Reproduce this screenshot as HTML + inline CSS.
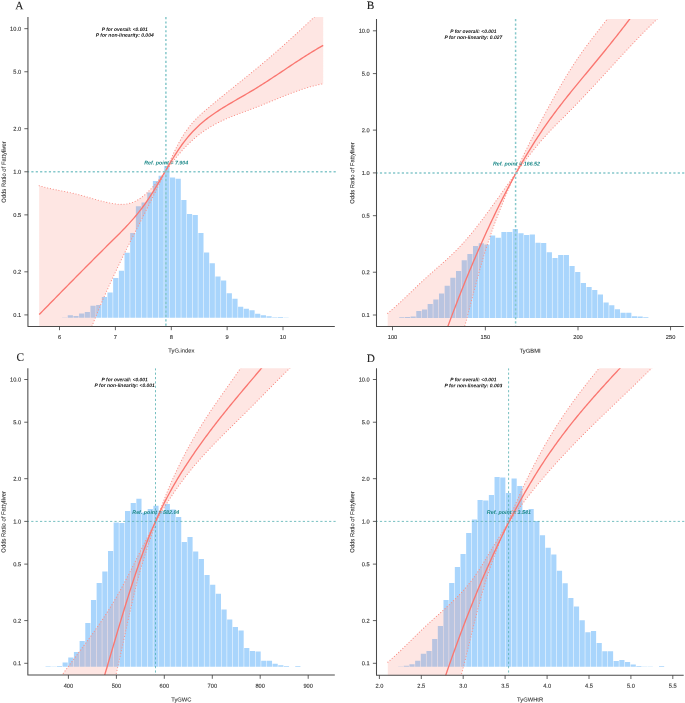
<!DOCTYPE html>
<html><head><meta charset="utf-8"><title>RCS plots</title>
<style>
html,body{margin:0;padding:0;background:#fff;}
svg{display:block;}
text{font-family:"Liberation Sans",sans-serif;text-rendering:geometricPrecision;}
.tk{font-size:5.7px;fill:#333;stroke:#333;stroke-width:0.12px;}
.ax{font-size:5.8px;fill:#333;stroke:#333;stroke-width:0.1px;}
.ay{font-size:5.9px;}
.pt{font-size:5.0px;font-weight:bold;font-style:italic;fill:#111;}
.rf{font-size:5.35px;font-weight:bold;font-style:italic;fill:#1f8a8a;}
.lt{font-family:"Liberation Serif",serif;font-size:11.3px;fill:#222;stroke:#222;stroke-width:0.12px;}
</style></head>
<body>
<svg width="685" height="703" viewBox="0 0 685 703">
<rect width="685" height="703" fill="#fff"/>
<g opacity="0.999">
<clipPath id="clip0"><rect x="27.95" y="17" width="308.85" height="309.4"/></clipPath>
<g clip-path="url(#clip0)">
<path d="M62.06 317.8H67.24V317.4H62.06ZM67.74 317.8H72.92V315.2H67.74ZM73.42 317.8H78.59V316.1H73.42ZM79.09 317.8H84.27V313.6H79.09ZM84.77 317.8H89.95V312H84.77ZM90.45 317.8H95.63V305.7H90.45ZM96.13 317.8H101.31V304.9H96.13ZM101.81 317.8H106.98V296.9H101.81ZM107.48 317.8H112.66V292.4H107.48ZM113.16 317.8H118.34V277.9H113.16ZM118.84 317.8H124.02V270.7H118.84ZM124.52 317.8H129.7V252.8H124.52ZM130.2 317.8H135.37V233H130.2ZM135.87 317.8H141.05V206.2H135.87ZM141.55 317.8H146.73V202.4H141.55ZM147.23 317.8H152.41V192.4H147.23ZM152.91 317.8H158.09V181H152.91ZM158.59 317.8H163.76V175.8H158.59ZM164.26 317.8H169.44V166.1H164.26ZM169.94 317.8H175.12V177.5H169.94ZM175.62 317.8H180.8V178.8H175.62ZM181.3 317.8H186.48V199.9H181.3ZM186.98 317.8H192.15V214.1H186.98ZM192.65 317.8H197.83V214.9H192.65ZM198.33 317.8H203.51V233.1H198.33ZM204.01 317.8H209.19V252.4H204.01ZM209.69 317.8H214.87V263.2H209.69ZM215.37 317.8H220.54V276.6H215.37ZM221.04 317.8H226.22V280.6H221.04ZM226.72 317.8H231.9V293.2H226.72ZM232.4 317.8H237.58V298.7H232.4ZM238.08 317.8H243.26V306.8H238.08ZM243.76 317.8H248.93V308.8H243.76ZM249.43 317.8H254.61V310.2H249.43ZM255.11 317.8H260.29V313.7H255.11ZM260.79 317.8H265.97V315.2H260.79ZM266.47 317.8H271.65V316.3H266.47ZM272.15 317.8H277.32V317.2H272.15ZM277.82 317.8H283V317H277.82ZM283.5 317.8H288.68V317.5H283.5Z" fill="#a9d5fc"/>
<path d="M39.2 458 L88 336.38 L89.48 332.51 L90.96 328.7 L92.44 324.93 L93.92 321.23 L95.4 317.56 L96.88 313.95 L98.35 310.39 L99.83 306.86 L101.31 303.39 L102.79 299.95 L104.27 296.55 L105.75 293.19 L107.23 289.87 L108.71 286.59 L110.19 283.33 L111.67 280.11 L113.15 276.92 L114.63 273.76 L116.11 270.63 L117.58 267.52 L119.06 264.43 L120.54 261.37 L122.02 258.33 L123.5 255.31 L124.98 252.31 L126.46 249.32 L127.94 246.35 L129.42 243.4 L130.9 240.45 L132.38 237.51 L133.86 234.59 L135.34 231.66 L136.82 228.75 L138.29 225.84 L139.77 222.93 L141.25 220.02 L142.73 217.11 L144.21 214.2 L145.69 211.28 L147.17 208.36 L148.65 205.43 L150.13 202.5 L151.61 199.55 L153.09 196.59 L154.57 193.61 L156.05 190.62 L157.52 187.6 L159 184.57 L160.48 181.5 L161.96 178.41 L163.44 175.29 L164.92 172.14 L166.4 168.95 L167.88 165.73 L169.36 162.5 L170.84 159.27 L172.32 156.06 L173.8 152.91 L175.28 149.84 L176.75 146.85 L178.23 143.99 L179.71 141.26 L181.19 138.67 L182.67 136.22 L184.15 133.9 L185.63 131.7 L187.11 129.61 L188.59 127.63 L190.07 125.75 L191.55 123.96 L193.03 122.26 L194.51 120.63 L195.98 119.07 L197.46 117.58 L198.94 116.14 L200.42 114.75 L201.9 113.41 L203.38 112.09 L204.86 110.81 L206.34 109.54 L207.82 108.29 L209.3 107.04 L210.78 105.8 L212.26 104.57 L213.74 103.34 L215.22 102.11 L216.69 100.89 L218.17 99.67 L219.65 98.46 L221.13 97.25 L222.61 96.05 L224.09 94.84 L225.57 93.64 L227.05 92.45 L228.53 91.25 L230.01 90.06 L231.49 88.86 L232.97 87.67 L234.45 86.48 L235.92 85.29 L237.4 84.1 L238.88 82.91 L240.36 81.72 L241.84 80.53 L243.32 79.33 L244.8 78.14 L246.28 76.94 L247.76 75.74 L249.24 74.54 L250.72 73.34 L252.2 72.13 L253.68 70.92 L255.15 69.71 L256.63 68.49 L258.11 67.27 L259.59 66.04 L261.07 64.81 L262.55 63.57 L264.03 62.33 L265.51 61.08 L266.99 59.83 L268.47 58.57 L269.95 57.3 L271.43 56.03 L272.91 54.75 L274.38 53.46 L275.86 52.17 L277.34 50.88 L278.82 49.58 L280.3 48.27 L281.78 46.96 L283.26 45.64 L284.74 44.32 L286.22 42.99 L287.7 41.66 L289.18 40.33 L290.66 38.99 L292.14 37.64 L293.62 36.29 L295.09 34.94 L296.57 33.58 L298.05 32.22 L299.53 30.85 L301.01 29.48 L302.49 28.11 L303.97 26.73 L305.45 25.35 L306.93 23.96 L308.41 22.58 L309.89 21.18 L311.37 19.79 L312.85 18.39 L314.32 16.99 L315.8 15.59 L317.28 14.18 L318.76 12.77 L320.24 11.36 L321.72 9.95 L323.2 8.53 L323.2 83.75 L321.41 84.09 L319.63 84.46 L317.84 84.85 L316.05 85.27 L314.27 85.71 L312.48 86.18 L310.69 86.67 L308.91 87.18 L307.12 87.72 L305.34 88.27 L303.55 88.84 L301.76 89.43 L299.98 90.04 L298.19 90.66 L296.4 91.3 L294.62 91.95 L292.83 92.61 L291.04 93.29 L289.26 93.97 L287.47 94.67 L285.68 95.37 L283.9 96.08 L282.11 96.8 L280.32 97.52 L278.54 98.25 L276.75 98.98 L274.97 99.72 L273.18 100.45 L271.39 101.19 L269.61 101.92 L267.82 102.66 L266.03 103.39 L264.25 104.11 L262.46 104.83 L260.67 105.55 L258.89 106.26 L257.1 106.96 L255.31 107.66 L253.53 108.34 L251.74 109.01 L249.95 109.68 L248.17 110.34 L246.38 111 L244.59 111.65 L242.81 112.31 L241.02 112.97 L239.24 113.64 L237.45 114.31 L235.66 114.99 L233.88 115.69 L232.09 116.39 L230.3 117.12 L228.52 117.86 L226.73 118.62 L224.94 119.41 L223.16 120.22 L221.37 121.05 L219.58 121.92 L217.8 122.82 L216.01 123.74 L214.22 124.71 L212.44 125.71 L210.65 126.75 L208.87 127.83 L207.08 128.96 L205.29 130.13 L203.51 131.35 L201.72 132.62 L199.93 133.95 L198.15 135.33 L196.36 136.76 L194.57 138.25 L192.79 139.81 L191 141.42 L189.21 143.1 L187.43 144.85 L185.64 146.67 L183.85 148.56 L182.07 150.52 L180.28 152.56 L178.5 154.67 L176.71 156.85 L174.92 159.07 L173.14 161.34 L171.35 163.63 L169.56 165.95 L167.78 168.28 L165.99 170.61 L164.2 172.94 L162.42 175.24 L160.63 177.52 L158.84 179.75 L157.06 181.94 L155.27 184.07 L153.48 186.12 L151.7 188.1 L149.91 189.99 L148.13 191.78 L146.34 193.47 L144.55 195.04 L142.77 196.5 L140.98 197.84 L139.19 199.06 L137.41 200.15 L135.62 201.12 L133.83 201.96 L132.05 202.66 L130.26 203.23 L128.47 203.67 L126.69 203.99 L124.9 204.21 L123.11 204.33 L121.33 204.36 L119.54 204.3 L117.76 204.18 L115.97 204 L114.18 203.76 L112.4 203.48 L110.61 203.16 L108.82 202.81 L107.04 202.43 L105.25 202.02 L103.46 201.6 L101.68 201.15 L99.89 200.68 L98.1 200.2 L96.32 199.7 L94.53 199.2 L92.74 198.69 L90.96 198.17 L89.17 197.65 L87.38 197.13 L85.6 196.62 L83.81 196.11 L82.03 195.61 L80.24 195.12 L78.45 194.64 L76.67 194.19 L74.88 193.75 L73.09 193.33 L71.31 192.93 L69.52 192.54 L67.73 192.17 L65.95 191.8 L64.16 191.45 L62.37 191.09 L60.59 190.74 L58.8 190.39 L57.01 190.03 L55.23 189.67 L53.44 189.3 L51.66 188.91 L49.87 188.52 L48.08 188.1 L46.3 187.67 L44.51 187.22 L42.72 186.74 L40.94 186.23 L39.15 185.7 Z" fill="#fa8072" fill-opacity="0.2" fill-rule="evenodd"/>
<path d="M39.2 458 L88 336.38 L89.48 332.51 L90.96 328.7 L92.44 324.93 L93.92 321.23 L95.4 317.56 L96.88 313.95 L98.35 310.39 L99.83 306.86 L101.31 303.39 L102.79 299.95 L104.27 296.55 L105.75 293.19 L107.23 289.87 L108.71 286.59 L110.19 283.33 L111.67 280.11 L113.15 276.92 L114.63 273.76 L116.11 270.63 L117.58 267.52 L119.06 264.43 L120.54 261.37 L122.02 258.33 L123.5 255.31 L124.98 252.31 L126.46 249.32 L127.94 246.35 L129.42 243.4 L130.9 240.45 L132.38 237.51 L133.86 234.59 L135.34 231.66 L136.82 228.75 L138.29 225.84 L139.77 222.93 L141.25 220.02 L142.73 217.11 L144.21 214.2 L145.69 211.28 L147.17 208.36 L148.65 205.43 L150.13 202.5 L151.61 199.55 L153.09 196.59 L154.57 193.61 L156.05 190.62 L157.52 187.6 L159 184.57 L160.48 181.5 L161.96 178.41 L163.44 175.29 L164.92 172.14 L166.4 168.95 L167.88 165.73 L169.36 162.5 L170.84 159.27 L172.32 156.06 L173.8 152.91 L175.28 149.84 L176.75 146.85 L178.23 143.99 L179.71 141.26 L181.19 138.67 L182.67 136.22 L184.15 133.9 L185.63 131.7 L187.11 129.61 L188.59 127.63 L190.07 125.75 L191.55 123.96 L193.03 122.26 L194.51 120.63 L195.98 119.07 L197.46 117.58 L198.94 116.14 L200.42 114.75 L201.9 113.41 L203.38 112.09 L204.86 110.81 L206.34 109.54 L207.82 108.29 L209.3 107.04 L210.78 105.8 L212.26 104.57 L213.74 103.34 L215.22 102.11 L216.69 100.89 L218.17 99.67 L219.65 98.46 L221.13 97.25 L222.61 96.05 L224.09 94.84 L225.57 93.64 L227.05 92.45 L228.53 91.25 L230.01 90.06 L231.49 88.86 L232.97 87.67 L234.45 86.48 L235.92 85.29 L237.4 84.1 L238.88 82.91 L240.36 81.72 L241.84 80.53 L243.32 79.33 L244.8 78.14 L246.28 76.94 L247.76 75.74 L249.24 74.54 L250.72 73.34 L252.2 72.13 L253.68 70.92 L255.15 69.71 L256.63 68.49 L258.11 67.27 L259.59 66.04 L261.07 64.81 L262.55 63.57 L264.03 62.33 L265.51 61.08 L266.99 59.83 L268.47 58.57 L269.95 57.3 L271.43 56.03 L272.91 54.75 L274.38 53.46 L275.86 52.17 L277.34 50.88 L278.82 49.58 L280.3 48.27 L281.78 46.96 L283.26 45.64 L284.74 44.32 L286.22 42.99 L287.7 41.66 L289.18 40.33 L290.66 38.99 L292.14 37.64 L293.62 36.29 L295.09 34.94 L296.57 33.58 L298.05 32.22 L299.53 30.85 L301.01 29.48 L302.49 28.11 L303.97 26.73 L305.45 25.35 L306.93 23.96 L308.41 22.58 L309.89 21.18 L311.37 19.79 L312.85 18.39 L314.32 16.99 L315.8 15.59 L317.28 14.18 L318.76 12.77 L320.24 11.36 L321.72 9.95 L323.2 8.53" fill="none" stroke="#f9928a" stroke-width="1.1" stroke-linecap="round" stroke-dasharray="0.15 2.75"/>
<path d="M39.15 185.7 L40.94 186.23 L42.72 186.74 L44.51 187.22 L46.3 187.67 L48.08 188.1 L49.87 188.52 L51.66 188.91 L53.44 189.3 L55.23 189.67 L57.01 190.03 L58.8 190.39 L60.59 190.74 L62.37 191.09 L64.16 191.45 L65.95 191.8 L67.73 192.17 L69.52 192.54 L71.31 192.93 L73.09 193.33 L74.88 193.75 L76.67 194.19 L78.45 194.64 L80.24 195.12 L82.03 195.61 L83.81 196.11 L85.6 196.62 L87.38 197.13 L89.17 197.65 L90.96 198.17 L92.74 198.69 L94.53 199.2 L96.32 199.7 L98.1 200.2 L99.89 200.68 L101.68 201.15 L103.46 201.6 L105.25 202.02 L107.04 202.43 L108.82 202.81 L110.61 203.16 L112.4 203.48 L114.18 203.76 L115.97 204 L117.76 204.18 L119.54 204.3 L121.33 204.36 L123.11 204.33 L124.9 204.21 L126.69 203.99 L128.47 203.67 L130.26 203.23 L132.05 202.66 L133.83 201.96 L135.62 201.12 L137.41 200.15 L139.19 199.06 L140.98 197.84 L142.77 196.5 L144.55 195.04 L146.34 193.47 L148.13 191.78 L149.91 189.99 L151.7 188.1 L153.48 186.12 L155.27 184.07 L157.06 181.94 L158.84 179.75 L160.63 177.52 L162.42 175.24 L164.2 172.94 L165.99 170.61 L167.78 168.28 L169.56 165.95 L171.35 163.63 L173.14 161.34 L174.92 159.07 L176.71 156.85 L178.5 154.67 L180.28 152.56 L182.07 150.52 L183.85 148.56 L185.64 146.67 L187.43 144.85 L189.21 143.1 L191 141.42 L192.79 139.81 L194.57 138.25 L196.36 136.76 L198.15 135.33 L199.93 133.95 L201.72 132.62 L203.51 131.35 L205.29 130.13 L207.08 128.96 L208.87 127.83 L210.65 126.75 L212.44 125.71 L214.22 124.71 L216.01 123.74 L217.8 122.82 L219.58 121.92 L221.37 121.05 L223.16 120.22 L224.94 119.41 L226.73 118.62 L228.52 117.86 L230.3 117.12 L232.09 116.39 L233.88 115.69 L235.66 114.99 L237.45 114.31 L239.24 113.64 L241.02 112.97 L242.81 112.31 L244.59 111.65 L246.38 111 L248.17 110.34 L249.95 109.68 L251.74 109.01 L253.53 108.34 L255.31 107.66 L257.1 106.96 L258.89 106.26 L260.67 105.55 L262.46 104.83 L264.25 104.11 L266.03 103.39 L267.82 102.66 L269.61 101.92 L271.39 101.19 L273.18 100.45 L274.97 99.72 L276.75 98.98 L278.54 98.25 L280.32 97.52 L282.11 96.8 L283.9 96.08 L285.68 95.37 L287.47 94.67 L289.26 93.97 L291.04 93.29 L292.83 92.61 L294.62 91.95 L296.4 91.3 L298.19 90.66 L299.98 90.04 L301.76 89.43 L303.55 88.84 L305.34 88.27 L307.12 87.72 L308.91 87.18 L310.69 86.67 L312.48 86.18 L314.27 85.71 L316.05 85.27 L317.84 84.85 L319.63 84.46 L321.41 84.09 L323.2 83.75" fill="none" stroke="#f9928a" stroke-width="1.1" stroke-linecap="round" stroke-dasharray="0.15 2.75"/>
<path d="M39.2 314.55 L40.99 312.72 L42.77 310.89 L44.56 309.07 L46.34 307.24 L48.13 305.41 L49.92 303.59 L51.7 301.76 L53.49 299.94 L55.28 298.12 L57.06 296.29 L58.85 294.47 L60.63 292.65 L62.42 290.83 L64.21 289.02 L65.99 287.2 L67.78 285.38 L69.56 283.57 L71.35 281.75 L73.14 279.94 L74.92 278.13 L76.71 276.32 L78.5 274.51 L80.28 272.71 L82.07 270.9 L83.85 269.1 L85.64 267.3 L87.43 265.5 L89.21 263.7 L91 261.91 L92.78 260.11 L94.57 258.32 L96.36 256.53 L98.14 254.74 L99.93 252.96 L101.72 251.17 L103.5 249.39 L105.29 247.61 L107.07 245.84 L108.86 244.06 L110.65 242.29 L112.43 240.52 L114.22 238.75 L116.01 236.98 L117.79 235.2 L119.58 233.41 L121.36 231.61 L123.15 229.78 L124.94 227.93 L126.72 226.05 L128.51 224.13 L130.29 222.17 L132.08 220.17 L133.87 218.12 L135.65 216.01 L137.44 213.85 L139.23 211.63 L141.01 209.34 L142.8 206.97 L144.58 204.53 L146.37 202.01 L148.16 199.4 L149.94 196.71 L151.73 193.93 L153.51 191.07 L155.3 188.16 L157.09 185.19 L158.87 182.18 L160.66 179.15 L162.45 176.09 L164.23 173.03 L166.02 169.97 L167.8 166.93 L169.59 163.92 L171.38 160.94 L173.16 158.02 L174.95 155.15 L176.73 152.36 L178.52 149.64 L180.31 147.02 L182.09 144.51 L183.88 142.1 L185.67 139.79 L187.45 137.59 L189.24 135.48 L191.02 133.46 L192.81 131.52 L194.6 129.67 L196.38 127.9 L198.17 126.19 L199.95 124.56 L201.74 123 L203.53 121.49 L205.31 120.04 L207.1 118.64 L208.89 117.29 L210.67 115.98 L212.46 114.71 L214.24 113.47 L216.03 112.27 L217.82 111.09 L219.6 109.93 L221.39 108.8 L223.17 107.68 L224.96 106.58 L226.75 105.49 L228.53 104.42 L230.32 103.35 L232.11 102.3 L233.89 101.26 L235.68 100.22 L237.46 99.18 L239.25 98.15 L241.04 97.12 L242.82 96.09 L244.61 95.06 L246.39 94.02 L248.18 92.98 L249.97 91.93 L251.75 90.87 L253.54 89.8 L255.33 88.72 L257.11 87.62 L258.9 86.51 L260.68 85.39 L262.47 84.26 L264.26 83.12 L266.04 81.98 L267.83 80.82 L269.62 79.66 L271.4 78.49 L273.19 77.31 L274.97 76.13 L276.76 74.95 L278.55 73.76 L280.33 72.57 L282.12 71.38 L283.9 70.19 L285.69 69 L287.48 67.81 L289.26 66.62 L291.05 65.43 L292.84 64.24 L294.62 63.06 L296.41 61.89 L298.19 60.72 L299.98 59.56 L301.77 58.4 L303.55 57.25 L305.34 56.11 L307.12 54.98 L308.91 53.86 L310.7 52.75 L312.48 51.66 L314.27 50.57 L316.06 49.5 L317.84 48.45 L319.63 47.41 L321.41 46.38 L323.2 45.38" fill="none" stroke="#fa7771" stroke-width="1.35" stroke-linejoin="round"/>
<path d="M165.9 17V326.4 M26.95 171.78H336.8" fill="none" stroke="#86c8cb" stroke-width="1.5" stroke-dasharray="2.2 2.18"/>
</g>
<path d="M27.95 17V326.4H334.8" fill="none" stroke="#4a4a4a" stroke-width="1.05" stroke-linejoin="round"/>
<text transform="translate(21.2 30.72) rotate(0.03)" text-anchor="end" class="tk">10.0</text>
<text transform="translate(21.2 73.8) rotate(0.03)" text-anchor="end" class="tk">5.0</text>
<text transform="translate(21.2 130.75) rotate(0.03)" text-anchor="end" class="tk">2.0</text>
<text transform="translate(21.2 173.83) rotate(0.03)" text-anchor="end" class="tk">1.0</text>
<text transform="translate(21.2 216.92) rotate(0.03)" text-anchor="end" class="tk">0.5</text>
<text transform="translate(21.2 273.87) rotate(0.03)" text-anchor="end" class="tk">0.2</text>
<text transform="translate(21.2 316.95) rotate(0.03)" text-anchor="end" class="tk">0.1</text>
<text transform="translate(59.5 338.95) rotate(0.03)" text-anchor="middle" class="tk">6</text>
<text transform="translate(115.4 338.95) rotate(0.03)" text-anchor="middle" class="tk">7</text>
<text transform="translate(171.3 338.95) rotate(0.03)" text-anchor="middle" class="tk">8</text>
<text transform="translate(227.15 338.95) rotate(0.03)" text-anchor="middle" class="tk">9</text>
<text transform="translate(283 338.95) rotate(0.03)" text-anchor="middle" class="tk">10</text>
<path d="M24.35 28.67H27.95M24.35 71.75H27.95M24.35 128.7H27.95M24.35 171.78H27.95M24.35 214.87H27.95M24.35 271.82H27.95M24.35 314.9H27.95M59.5 326.4V330.2M115.4 326.4V330.2M171.3 326.4V330.2M227.15 326.4V330.2M283 326.4V330.2" fill="none" stroke="#3c3c3c" stroke-width="0.8"/>
<text transform="translate(181.38 352.6) rotate(0.03)" text-anchor="middle" class="ax">TyG.index</text>
<text transform="translate(5.65 172) rotate(-90.03)" text-anchor="middle" class="ax ay">Odds Ratio of Fattyliver</text>
<text transform="translate(124.75 30.92) rotate(0.03)" text-anchor="middle" textLength="46.1" lengthAdjust="spacingAndGlyphs" class="pt">P for overall: &lt;0.001</text>
<text transform="translate(124.75 36.82) rotate(0.03)" text-anchor="middle" textLength="57.85" lengthAdjust="spacingAndGlyphs" class="pt">P for non-linearity: 0.004</text>
<text transform="translate(166.2 164.48) rotate(0.03)" text-anchor="middle" class="rf">Ref. point = 7.904</text>
<text transform="translate(15.2 9.2) rotate(0.03)" class="lt">A</text>
<clipPath id="clip1"><rect x="376.5" y="19.1" width="309.2" height="307.4"/></clipPath>
<g clip-path="url(#clip1)">
<path d="M399.25 317.9H404.42V317.2H399.25ZM404.92 317.9H410.1V317H404.92ZM410.6 317.9H415.77V316.5H410.6ZM416.27 317.9H421.45V311H416.27ZM421.95 317.9H427.12V309.5H421.95ZM427.62 317.9H432.79V304H427.62ZM433.29 317.9H438.47V299.5H433.29ZM438.97 317.9H444.14V293.4H438.97ZM444.64 317.9H449.82V285.7H444.64ZM450.32 317.9H455.49V277.7H450.32ZM455.99 317.9H461.16V271.1H455.99ZM461.66 317.9H466.84V260.3H461.66ZM467.34 317.9H472.51V254.1H467.34ZM473.01 317.9H478.19V246H473.01ZM478.69 317.9H483.86V243.3H478.69ZM484.36 317.9H489.53V244.6H484.36ZM490.03 317.9H495.21V235.6H490.03ZM495.71 317.9H500.88V237.8H495.71ZM501.38 317.9H506.56V232H501.38ZM507.06 317.9H512.23V232H507.06ZM512.73 317.9H517.9V229.1H512.73ZM518.4 317.9H523.58V233.3H518.4ZM524.08 317.9H529.25V235H524.08ZM529.75 317.9H534.93V234.6H529.75ZM535.43 317.9H540.6V242.8H535.43ZM541.1 317.9H546.27V243.1H541.1ZM546.77 317.9H551.95V252.3H546.77ZM552.45 317.9H557.62V257.9H552.45ZM558.12 317.9H563.3V254.9H558.12ZM563.8 317.9H568.97V254.9H563.8ZM569.47 317.9H574.64V266.1H569.47ZM575.14 317.9H580.32V272.1H575.14ZM580.82 317.9H585.99V282.9H580.82ZM586.49 317.9H591.67V287.1H586.49ZM592.17 317.9H597.34V289.9H592.17ZM597.84 317.9H603.01V294.5H597.84ZM603.51 317.9H608.69V302.4H603.51ZM609.19 317.9H614.36V305.2H609.19ZM614.86 317.9H620.04V309.3H614.86ZM620.54 317.9H625.71V312.7H620.54ZM626.21 317.9H631.38V312.7H626.21ZM631.88 317.9H637.06V316.2H631.88ZM637.56 317.9H642.73V316.6H637.56ZM643.23 317.9H648.41V317.3H643.23Z" fill="#a9d5fc"/>
<path d="M387.65 566 L462 336 L462.97 332.59 L463.95 329.12 L464.92 325.59 L465.9 322.01 L466.87 318.38 L467.85 314.72 L468.82 311.02 L469.8 307.31 L470.77 303.58 L471.75 299.84 L472.72 296.11 L473.7 292.39 L474.67 288.68 L475.65 285 L476.62 281.34 L477.6 277.73 L478.57 274.15 L479.55 270.62 L480.52 267.14 L481.5 263.72 L482.47 260.36 L483.45 257.07 L484.42 253.85 L485.4 250.7 L486.37 247.61 L487.35 244.58 L488.32 241.61 L489.3 238.7 L490.27 235.84 L491.25 233.03 L492.22 230.28 L493.19 227.56 L494.17 224.89 L495.14 222.26 L496.12 219.67 L497.09 217.11 L498.07 214.59 L499.04 212.09 L500.02 209.62 L500.99 207.18 L501.97 204.76 L502.94 202.36 L503.92 199.97 L504.89 197.6 L505.87 195.24 L506.84 192.9 L507.82 190.57 L508.79 188.26 L509.77 185.96 L510.74 183.68 L511.72 181.42 L512.69 179.17 L513.67 176.93 L514.64 174.72 L515.62 172.52 L516.59 170.33 L517.57 168.17 L518.54 166.02 L519.52 163.89 L520.49 161.77 L521.47 159.68 L522.44 157.6 L523.42 155.54 L524.39 153.51 L525.36 151.49 L526.34 149.49 L527.31 147.5 L528.29 145.54 L529.26 143.59 L530.24 141.65 L531.21 139.73 L532.19 137.83 L533.16 135.93 L534.14 134.05 L535.11 132.18 L536.09 130.32 L537.06 128.47 L538.04 126.63 L539.01 124.8 L539.99 122.97 L540.96 121.15 L541.94 119.33 L542.91 117.52 L543.89 115.72 L544.86 113.91 L545.84 112.12 L546.81 110.33 L547.79 108.55 L548.76 106.77 L549.74 105 L550.71 103.24 L551.69 101.48 L552.66 99.73 L553.64 97.99 L554.61 96.26 L555.58 94.54 L556.56 92.83 L557.53 91.12 L558.51 89.43 L559.48 87.74 L560.46 86.06 L561.43 84.4 L562.41 82.75 L563.38 81.1 L564.36 79.47 L565.33 77.85 L566.31 76.24 L567.28 74.64 L568.26 73.06 L569.23 71.49 L570.21 69.93 L571.18 68.38 L572.16 66.85 L573.13 65.33 L574.11 63.83 L575.08 62.34 L576.06 60.87 L577.03 59.41 L578.01 57.96 L578.98 56.54 L579.96 55.13 L580.93 53.73 L581.91 52.35 L582.88 50.98 L583.86 49.63 L584.83 48.28 L585.81 46.95 L586.78 45.63 L587.75 44.33 L588.73 43.03 L589.7 41.73 L590.68 40.45 L591.65 39.18 L592.63 37.91 L593.6 36.64 L594.58 35.38 L595.55 34.13 L596.53 32.87 L597.5 31.62 L598.48 30.38 L599.45 29.13 L600.43 27.88 L601.4 26.63 L602.38 25.38 L603.35 24.13 L604.33 22.88 L605.3 21.62 L606.28 20.35 L607.25 19.08 L608.23 17.81 L609.2 16.53 L610.18 15.24 L611.15 13.94 L612.13 12.63 L613.1 11.32 L614.08 9.99 L615.05 8.65 L616.03 7.3 L617 5.93 L672 5.64 L670.21 7.17 L668.42 8.73 L666.63 10.31 L664.85 11.92 L663.06 13.54 L661.27 15.19 L659.48 16.86 L657.69 18.54 L655.9 20.25 L654.12 21.97 L652.33 23.71 L650.54 25.47 L648.75 27.24 L646.96 29.03 L645.17 30.83 L643.39 32.65 L641.6 34.48 L639.81 36.32 L638.02 38.18 L636.23 40.04 L634.44 41.92 L632.66 43.8 L630.87 45.7 L629.08 47.6 L627.29 49.51 L625.5 51.43 L623.71 53.36 L621.93 55.29 L620.14 57.22 L618.35 59.16 L616.56 61.1 L614.77 63.05 L612.98 64.99 L611.2 66.94 L609.41 68.89 L607.62 70.84 L605.83 72.79 L604.04 74.74 L602.25 76.68 L600.47 78.63 L598.68 80.57 L596.89 82.5 L595.1 84.44 L593.31 86.36 L591.52 88.29 L589.74 90.2 L587.95 92.11 L586.16 94.02 L584.37 95.91 L582.58 97.8 L580.79 99.69 L579.01 101.56 L577.22 103.42 L575.43 105.28 L573.64 107.12 L571.85 108.95 L570.06 110.77 L568.27 112.58 L566.49 114.38 L564.7 116.17 L562.91 117.95 L561.12 119.72 L559.33 121.5 L557.54 123.29 L555.76 125.09 L553.97 126.91 L552.18 128.75 L550.39 130.63 L548.6 132.53 L546.81 134.48 L545.03 136.45 L543.24 138.46 L541.45 140.51 L539.66 142.59 L537.87 144.7 L536.08 146.84 L534.3 149.02 L532.51 151.23 L530.72 153.47 L528.93 155.75 L527.14 158.05 L525.35 160.39 L523.57 162.75 L521.78 165.13 L519.99 167.53 L518.2 169.96 L516.41 172.4 L514.62 174.86 L512.84 177.34 L511.05 179.82 L509.26 182.31 L507.47 184.82 L505.68 187.32 L503.89 189.83 L502.11 192.34 L500.32 194.85 L498.53 197.36 L496.74 199.86 L494.95 202.35 L493.16 204.83 L491.38 207.3 L489.59 209.76 L487.8 212.2 L486.01 214.62 L484.22 217.03 L482.43 219.41 L480.64 221.76 L478.86 224.09 L477.07 226.39 L475.28 228.66 L473.49 230.9 L471.7 233.1 L469.91 235.26 L468.13 237.39 L466.34 239.47 L464.55 241.51 L462.76 243.51 L460.97 245.45 L459.18 247.35 L457.4 249.2 L455.61 251.01 L453.82 252.78 L452.03 254.51 L450.24 256.21 L448.45 257.88 L446.67 259.52 L444.88 261.14 L443.09 262.75 L441.3 264.33 L439.51 265.91 L437.72 267.48 L435.94 269.05 L434.15 270.62 L432.36 272.19 L430.57 273.76 L428.78 275.35 L426.99 276.95 L425.21 278.57 L423.42 280.21 L421.63 281.88 L419.84 283.56 L418.05 285.25 L416.26 286.96 L414.48 288.68 L412.69 290.4 L410.9 292.13 L409.11 293.85 L407.32 295.57 L405.53 297.29 L403.75 298.99 L401.96 300.68 L400.17 302.36 L398.38 304.01 L396.59 305.64 L394.8 307.25 L393.02 308.82 L391.23 310.36 L389.44 311.87 L387.65 313.34 Z" fill="#fa8072" fill-opacity="0.2" fill-rule="evenodd"/>
<path d="M387.65 566 L462 336 L462.97 332.59 L463.95 329.12 L464.92 325.59 L465.9 322.01 L466.87 318.38 L467.85 314.72 L468.82 311.02 L469.8 307.31 L470.77 303.58 L471.75 299.84 L472.72 296.11 L473.7 292.39 L474.67 288.68 L475.65 285 L476.62 281.34 L477.6 277.73 L478.57 274.15 L479.55 270.62 L480.52 267.14 L481.5 263.72 L482.47 260.36 L483.45 257.07 L484.42 253.85 L485.4 250.7 L486.37 247.61 L487.35 244.58 L488.32 241.61 L489.3 238.7 L490.27 235.84 L491.25 233.03 L492.22 230.28 L493.19 227.56 L494.17 224.89 L495.14 222.26 L496.12 219.67 L497.09 217.11 L498.07 214.59 L499.04 212.09 L500.02 209.62 L500.99 207.18 L501.97 204.76 L502.94 202.36 L503.92 199.97 L504.89 197.6 L505.87 195.24 L506.84 192.9 L507.82 190.57 L508.79 188.26 L509.77 185.96 L510.74 183.68 L511.72 181.42 L512.69 179.17 L513.67 176.93 L514.64 174.72 L515.62 172.52 L516.59 170.33 L517.57 168.17 L518.54 166.02 L519.52 163.89 L520.49 161.77 L521.47 159.68 L522.44 157.6 L523.42 155.54 L524.39 153.51 L525.36 151.49 L526.34 149.49 L527.31 147.5 L528.29 145.54 L529.26 143.59 L530.24 141.65 L531.21 139.73 L532.19 137.83 L533.16 135.93 L534.14 134.05 L535.11 132.18 L536.09 130.32 L537.06 128.47 L538.04 126.63 L539.01 124.8 L539.99 122.97 L540.96 121.15 L541.94 119.33 L542.91 117.52 L543.89 115.72 L544.86 113.91 L545.84 112.12 L546.81 110.33 L547.79 108.55 L548.76 106.77 L549.74 105 L550.71 103.24 L551.69 101.48 L552.66 99.73 L553.64 97.99 L554.61 96.26 L555.58 94.54 L556.56 92.83 L557.53 91.12 L558.51 89.43 L559.48 87.74 L560.46 86.06 L561.43 84.4 L562.41 82.75 L563.38 81.1 L564.36 79.47 L565.33 77.85 L566.31 76.24 L567.28 74.64 L568.26 73.06 L569.23 71.49 L570.21 69.93 L571.18 68.38 L572.16 66.85 L573.13 65.33 L574.11 63.83 L575.08 62.34 L576.06 60.87 L577.03 59.41 L578.01 57.96 L578.98 56.54 L579.96 55.13 L580.93 53.73 L581.91 52.35 L582.88 50.98 L583.86 49.63 L584.83 48.28 L585.81 46.95 L586.78 45.63 L587.75 44.33 L588.73 43.03 L589.7 41.73 L590.68 40.45 L591.65 39.18 L592.63 37.91 L593.6 36.64 L594.58 35.38 L595.55 34.13 L596.53 32.87 L597.5 31.62 L598.48 30.38 L599.45 29.13 L600.43 27.88 L601.4 26.63 L602.38 25.38 L603.35 24.13 L604.33 22.88 L605.3 21.62 L606.28 20.35 L607.25 19.08 L608.23 17.81 L609.2 16.53 L610.18 15.24 L611.15 13.94 L612.13 12.63 L613.1 11.32 L614.08 9.99 L615.05 8.65 L616.03 7.3 L617 5.93" fill="none" stroke="#f9928a" stroke-width="1.1" stroke-linecap="round" stroke-dasharray="0.15 2.75"/>
<path d="M387.65 313.34 L389.44 311.87 L391.23 310.36 L393.02 308.82 L394.8 307.25 L396.59 305.64 L398.38 304.01 L400.17 302.36 L401.96 300.68 L403.75 298.99 L405.53 297.29 L407.32 295.57 L409.11 293.85 L410.9 292.13 L412.69 290.4 L414.48 288.68 L416.26 286.96 L418.05 285.25 L419.84 283.56 L421.63 281.88 L423.42 280.21 L425.21 278.57 L426.99 276.95 L428.78 275.35 L430.57 273.76 L432.36 272.19 L434.15 270.62 L435.94 269.05 L437.72 267.48 L439.51 265.91 L441.3 264.33 L443.09 262.75 L444.88 261.14 L446.67 259.52 L448.45 257.88 L450.24 256.21 L452.03 254.51 L453.82 252.78 L455.61 251.01 L457.4 249.2 L459.18 247.35 L460.97 245.45 L462.76 243.51 L464.55 241.51 L466.34 239.47 L468.13 237.39 L469.91 235.26 L471.7 233.1 L473.49 230.9 L475.28 228.66 L477.07 226.39 L478.86 224.09 L480.64 221.76 L482.43 219.41 L484.22 217.03 L486.01 214.62 L487.8 212.2 L489.59 209.76 L491.38 207.3 L493.16 204.83 L494.95 202.35 L496.74 199.86 L498.53 197.36 L500.32 194.85 L502.11 192.34 L503.89 189.83 L505.68 187.32 L507.47 184.82 L509.26 182.31 L511.05 179.82 L512.84 177.34 L514.62 174.86 L516.41 172.4 L518.2 169.96 L519.99 167.53 L521.78 165.13 L523.57 162.75 L525.35 160.39 L527.14 158.05 L528.93 155.75 L530.72 153.47 L532.51 151.23 L534.3 149.02 L536.08 146.84 L537.87 144.7 L539.66 142.59 L541.45 140.51 L543.24 138.46 L545.03 136.45 L546.81 134.48 L548.6 132.53 L550.39 130.63 L552.18 128.75 L553.97 126.91 L555.76 125.09 L557.54 123.29 L559.33 121.5 L561.12 119.72 L562.91 117.95 L564.7 116.17 L566.49 114.38 L568.27 112.58 L570.06 110.77 L571.85 108.95 L573.64 107.12 L575.43 105.28 L577.22 103.42 L579.01 101.56 L580.79 99.69 L582.58 97.8 L584.37 95.91 L586.16 94.02 L587.95 92.11 L589.74 90.2 L591.52 88.29 L593.31 86.36 L595.1 84.44 L596.89 82.5 L598.68 80.57 L600.47 78.63 L602.25 76.68 L604.04 74.74 L605.83 72.79 L607.62 70.84 L609.41 68.89 L611.2 66.94 L612.98 64.99 L614.77 63.05 L616.56 61.1 L618.35 59.16 L620.14 57.22 L621.93 55.29 L623.71 53.36 L625.5 51.43 L627.29 49.51 L629.08 47.6 L630.87 45.7 L632.66 43.8 L634.44 41.92 L636.23 40.04 L638.02 38.18 L639.81 36.32 L641.6 34.48 L643.39 32.65 L645.17 30.83 L646.96 29.03 L648.75 27.24 L650.54 25.47 L652.33 23.71 L654.12 21.97 L655.9 20.25 L657.69 18.54 L659.48 16.86 L661.27 15.19 L663.06 13.54 L664.85 11.92 L666.63 10.31 L668.42 8.73 L670.21 7.17 L672 5.64" fill="none" stroke="#f9928a" stroke-width="1.1" stroke-linecap="round" stroke-dasharray="0.15 2.75"/>
<path d="M444 336.91 L445.23 333.52 L446.47 330.15 L447.7 326.8 L448.93 323.48 L450.16 320.17 L451.4 316.88 L452.63 313.62 L453.86 310.38 L455.09 307.15 L456.33 303.95 L457.56 300.77 L458.79 297.61 L460.03 294.47 L461.26 291.35 L462.49 288.25 L463.72 285.18 L464.96 282.12 L466.19 279.08 L467.42 276.07 L468.65 273.07 L469.89 270.1 L471.12 267.14 L472.35 264.21 L473.58 261.29 L474.82 258.4 L476.05 255.53 L477.28 252.67 L478.52 249.84 L479.75 247.03 L480.98 244.24 L482.21 241.46 L483.45 238.71 L484.68 235.98 L485.91 233.27 L487.14 230.58 L488.38 227.91 L489.61 225.25 L490.84 222.62 L492.08 220.01 L493.31 217.42 L494.54 214.85 L495.77 212.3 L497.01 209.76 L498.24 207.25 L499.47 204.76 L500.7 202.29 L501.94 199.83 L503.17 197.4 L504.4 194.99 L505.64 192.59 L506.87 190.22 L508.1 187.86 L509.33 185.53 L510.57 183.21 L511.8 180.91 L513.03 178.64 L514.26 176.38 L515.5 174.14 L516.73 171.92 L517.96 169.72 L519.19 167.54 L520.43 165.38 L521.66 163.24 L522.89 161.12 L524.13 159.01 L525.36 156.93 L526.59 154.87 L527.82 152.82 L529.06 150.79 L530.29 148.78 L531.52 146.8 L532.75 144.83 L533.99 142.87 L535.22 140.94 L536.45 139.03 L537.69 137.13 L538.92 135.26 L540.15 133.4 L541.38 131.56 L542.62 129.74 L543.85 127.94 L545.08 126.16 L546.31 124.4 L547.55 122.65 L548.78 120.91 L550.01 119.2 L551.25 117.5 L552.48 115.81 L553.71 114.14 L554.94 112.48 L556.18 110.83 L557.41 109.2 L558.64 107.58 L559.87 105.97 L561.11 104.38 L562.34 102.79 L563.57 101.21 L564.81 99.65 L566.04 98.09 L567.27 96.54 L568.5 95 L569.74 93.46 L570.97 91.93 L572.2 90.41 L573.43 88.9 L574.67 87.39 L575.9 85.88 L577.13 84.38 L578.36 82.89 L579.6 81.39 L580.83 79.9 L582.06 78.41 L583.3 76.93 L584.53 75.44 L585.76 73.96 L586.99 72.47 L588.23 70.99 L589.46 69.5 L590.69 68.01 L591.92 66.52 L593.16 65.03 L594.39 63.54 L595.62 62.04 L596.86 60.54 L598.09 59.04 L599.32 57.54 L600.55 56.03 L601.79 54.52 L603.02 53 L604.25 51.48 L605.48 49.96 L606.72 48.44 L607.95 46.91 L609.18 45.37 L610.42 43.83 L611.65 42.29 L612.88 40.74 L614.11 39.19 L615.35 37.63 L616.58 36.07 L617.81 34.5 L619.04 32.93 L620.28 31.35 L621.51 29.77 L622.74 28.18 L623.97 26.58 L625.21 24.98 L626.44 23.37 L627.67 21.76 L628.91 20.13 L630.14 18.51 L631.37 16.87 L632.6 15.23 L633.84 13.58 L635.07 11.92 L636.3 10.26 L637.53 8.58 L638.77 6.9 L640 5.22" fill="none" stroke="#fa7771" stroke-width="1.35" stroke-linejoin="round"/>
<path d="M515.6 19.1V326.5 M375.5 172.9H685.7" fill="none" stroke="#86c8cb" stroke-width="1.5" stroke-dasharray="2.2 2.18"/>
</g>
<path d="M376.5 19.1V326.5H683.7" fill="none" stroke="#4a4a4a" stroke-width="1.05" stroke-linejoin="round"/>
<text transform="translate(369.75 32.85) rotate(0.03)" text-anchor="end" class="tk">10.0</text>
<text transform="translate(369.75 75.63) rotate(0.03)" text-anchor="end" class="tk">5.0</text>
<text transform="translate(369.75 132.17) rotate(0.03)" text-anchor="end" class="tk">2.0</text>
<text transform="translate(369.75 174.95) rotate(0.03)" text-anchor="end" class="tk">1.0</text>
<text transform="translate(369.75 217.73) rotate(0.03)" text-anchor="end" class="tk">0.5</text>
<text transform="translate(369.75 274.27) rotate(0.03)" text-anchor="end" class="tk">0.2</text>
<text transform="translate(369.75 317.05) rotate(0.03)" text-anchor="end" class="tk">0.1</text>
<text transform="translate(392.5 339.05) rotate(0.03)" text-anchor="middle" class="tk">100</text>
<text transform="translate(485.35 339.05) rotate(0.03)" text-anchor="middle" class="tk">150</text>
<text transform="translate(578 339.05) rotate(0.03)" text-anchor="middle" class="tk">200</text>
<text transform="translate(670.55 339.05) rotate(0.03)" text-anchor="middle" class="tk">250</text>
<path d="M372.9 30.8H376.5M372.9 73.58H376.5M372.9 130.12H376.5M372.9 172.9H376.5M372.9 215.68H376.5M372.9 272.22H376.5M372.9 315H376.5M392.5 326.5V330.3M485.35 326.5V330.3M578 326.5V330.3M670.55 326.5V330.3" fill="none" stroke="#3c3c3c" stroke-width="0.8"/>
<text transform="translate(530.1 352.7) rotate(0.03)" text-anchor="middle" class="ax">TyGBMI</text>
<text transform="translate(354.2 173.1) rotate(-90.03)" text-anchor="middle" class="ax ay">Odds Ratio of Fattyliver</text>
<text transform="translate(473.3 33.05) rotate(0.03)" text-anchor="middle" textLength="46.1" lengthAdjust="spacingAndGlyphs" class="pt">P for overall: &lt;0.001</text>
<text transform="translate(473.3 38.95) rotate(0.03)" text-anchor="middle" textLength="57.85" lengthAdjust="spacingAndGlyphs" class="pt">P for non-linearity: 0.027</text>
<text transform="translate(516.5 165.6) rotate(0.03)" text-anchor="middle" class="rf">Ref. point = 166.52</text>
<text transform="translate(366.8 8.9) rotate(0.03)" class="lt">B</text>
<clipPath id="clip2"><rect x="27.85" y="368.2" width="308.95" height="306.8"/></clipPath>
<g clip-path="url(#clip2)">
<path d="M45.55 666.8H50.72V666.2H45.55ZM51.22 666.8H56.4V666.5H51.22ZM56.9 666.8H62.07V666H56.9ZM62.57 666.8H67.75V662.5H62.57ZM68.25 666.8H73.42V657.5H68.25ZM73.92 666.8H79.1V652H73.92ZM79.6 666.8H84.77V641.1H79.6ZM85.28 666.8H90.45V622.9H85.28ZM90.95 666.8H96.12V600H90.95ZM96.62 666.8H101.8V583H96.62ZM102.3 666.8H107.47V571.6H102.3ZM107.97 666.8H113.15V551.1H107.97ZM113.65 666.8H118.82V522.6H113.65ZM119.32 666.8H124.5V523H119.32ZM125 666.8H130.18V511H125ZM130.68 666.8H135.85V503H130.68ZM136.35 666.8H141.53V498.8H136.35ZM142.02 666.8H147.2V512.5H142.02ZM147.7 666.8H152.88V509.1H147.7ZM153.38 666.8H158.55V505.8H153.38ZM159.05 666.8H164.23V511.3H159.05ZM164.72 666.8H169.9V504.1H164.72ZM170.4 666.8H175.57V509.6H170.4ZM176.07 666.8H181.25V516.9H176.07ZM181.75 666.8H186.93V541.9H181.75ZM187.43 666.8H192.6V536.9H187.43ZM193.1 666.8H198.27V551.6H193.1ZM198.77 666.8H203.95V558.9H198.77ZM204.45 666.8H209.62V575H204.45ZM210.12 666.8H215.3V584.8H210.12ZM215.8 666.8H220.98V593.8H215.8ZM221.47 666.8H226.65V609.6H221.47ZM227.15 666.8H232.32V619.4H227.15ZM232.82 666.8H238V626.9H232.82ZM238.5 666.8H243.68V630.6H238.5ZM244.18 666.8H249.35V647.9H244.18ZM249.85 666.8H255.02V650.9H249.85ZM255.52 666.8H260.7V651.5H255.52ZM261.2 666.8H266.38V660.8H261.2ZM266.88 666.8H272.05V660.8H266.88ZM272.55 666.8H277.73V663.7H272.55ZM278.22 666.8H283.4V665.2H278.22ZM283.9 666.8H289.07V666H283.9ZM295.25 666.8H300.43V666H295.25Z" fill="#a9d5fc"/>
<path d="M62.8 911 L113.6 684.84 L114.45 681.27 L115.3 677.66 L116.15 674.01 L117.01 670.31 L117.86 666.57 L118.71 662.81 L119.56 659.01 L120.41 655.19 L121.26 651.36 L122.12 647.5 L122.97 643.64 L123.82 639.77 L124.67 635.9 L125.52 632.03 L126.37 628.16 L127.23 624.31 L128.08 620.46 L128.93 616.64 L129.78 612.84 L130.63 609.07 L131.48 605.33 L132.33 601.63 L133.19 597.97 L134.04 594.37 L134.89 590.83 L135.74 587.35 L136.59 583.96 L137.44 580.64 L138.3 577.42 L139.15 574.29 L140 571.27 L140.85 568.34 L141.7 565.48 L142.55 562.7 L143.41 559.97 L144.26 557.29 L145.11 554.65 L145.96 552.03 L146.81 549.43 L147.66 546.83 L148.51 544.22 L149.37 541.62 L150.22 539.02 L151.07 536.43 L151.92 533.84 L152.77 531.27 L153.62 528.72 L154.48 526.2 L155.33 523.69 L156.18 521.22 L157.03 518.78 L157.88 516.37 L158.73 513.99 L159.58 511.64 L160.44 509.32 L161.29 507.03 L162.14 504.77 L162.99 502.55 L163.84 500.35 L164.69 498.18 L165.55 496.04 L166.4 493.93 L167.25 491.85 L168.1 489.8 L168.95 487.77 L169.8 485.77 L170.66 483.79 L171.51 481.84 L172.36 479.91 L173.21 478.01 L174.06 476.13 L174.91 474.27 L175.76 472.44 L176.62 470.63 L177.47 468.83 L178.32 467.06 L179.17 465.31 L180.02 463.58 L180.87 461.87 L181.73 460.17 L182.58 458.5 L183.43 456.84 L184.28 455.2 L185.13 453.57 L185.98 451.96 L186.84 450.37 L187.69 448.79 L188.54 447.23 L189.39 445.68 L190.24 444.15 L191.09 442.63 L191.94 441.13 L192.8 439.64 L193.65 438.17 L194.5 436.71 L195.35 435.26 L196.2 433.82 L197.05 432.4 L197.91 430.98 L198.76 429.58 L199.61 428.19 L200.46 426.81 L201.31 425.45 L202.16 424.09 L203.02 422.74 L203.87 421.4 L204.72 420.07 L205.57 418.75 L206.42 417.44 L207.27 416.14 L208.12 414.84 L208.98 413.56 L209.83 412.28 L210.68 411.01 L211.53 409.74 L212.38 408.48 L213.23 407.23 L214.09 405.98 L214.94 404.74 L215.79 403.5 L216.64 402.27 L217.49 401.04 L218.34 399.82 L219.19 398.6 L220.05 397.38 L220.9 396.17 L221.75 394.95 L222.6 393.75 L223.45 392.54 L224.3 391.34 L225.16 390.13 L226.01 388.93 L226.86 387.73 L227.71 386.53 L228.56 385.33 L229.41 384.13 L230.27 382.93 L231.12 381.73 L231.97 380.53 L232.82 379.33 L233.67 378.12 L234.52 376.91 L235.37 375.71 L236.23 374.49 L237.08 373.28 L237.93 372.06 L238.78 370.84 L239.63 369.61 L240.48 368.38 L241.34 367.14 L242.19 365.9 L243.04 364.66 L243.89 363.41 L244.74 362.15 L245.59 360.89 L246.45 359.62 L247.3 358.34 L248.15 357.06 L249 355.76 L302 356.22 L300.45 357.71 L298.89 359.21 L297.34 360.72 L295.79 362.23 L294.23 363.75 L292.68 365.27 L291.13 366.8 L289.57 368.34 L288.02 369.87 L286.47 371.42 L284.91 372.97 L283.36 374.52 L281.81 376.07 L280.25 377.63 L278.7 379.19 L277.14 380.76 L275.59 382.32 L274.04 383.89 L272.48 385.46 L270.93 387.04 L269.38 388.61 L267.82 390.18 L266.27 391.76 L264.72 393.33 L263.16 394.91 L261.61 396.48 L260.06 398.06 L258.5 399.63 L256.95 401.2 L255.4 402.77 L253.84 404.34 L252.29 405.91 L250.74 407.47 L249.18 409.03 L247.63 410.59 L246.08 412.15 L244.52 413.7 L242.97 415.25 L241.42 416.79 L239.86 418.33 L238.31 419.86 L236.75 421.4 L235.2 422.93 L233.65 424.45 L232.09 425.98 L230.54 427.51 L228.99 429.04 L227.43 430.57 L225.88 432.11 L224.33 433.65 L222.77 435.2 L221.22 436.75 L219.67 438.31 L218.11 439.88 L216.56 441.46 L215.01 443.05 L213.45 444.66 L211.9 446.27 L210.35 447.9 L208.79 449.54 L207.24 451.2 L205.69 452.88 L204.13 454.58 L202.58 456.29 L201.03 458.03 L199.47 459.78 L197.92 461.56 L196.36 463.36 L194.81 465.18 L193.26 467.03 L191.7 468.91 L190.15 470.81 L188.6 472.74 L187.04 474.7 L185.49 476.69 L183.94 478.71 L182.38 480.76 L180.83 482.85 L179.28 484.97 L177.72 487.13 L176.17 489.32 L174.62 491.55 L173.06 493.81 L171.51 496.12 L169.96 498.46 L168.4 500.84 L166.85 503.26 L165.3 505.73 L163.74 508.23 L162.19 510.78 L160.64 513.37 L159.08 516.01 L157.53 518.69 L155.97 521.41 L154.42 524.18 L152.87 527 L151.31 529.87 L149.76 532.78 L148.21 535.74 L146.65 538.74 L145.1 541.78 L143.55 544.85 L141.99 547.94 L140.44 551.05 L138.89 554.17 L137.33 557.29 L135.78 560.4 L134.23 563.51 L132.67 566.6 L131.12 569.67 L129.57 572.71 L128.01 575.73 L126.46 578.72 L124.91 581.67 L123.35 584.58 L121.8 587.46 L120.25 590.3 L118.69 593.09 L117.14 595.83 L115.58 598.53 L114.03 601.17 L112.48 603.77 L110.92 606.32 L109.37 608.83 L107.82 611.3 L106.26 613.73 L104.71 616.12 L103.16 618.47 L101.6 620.8 L100.05 623.09 L98.5 625.35 L96.94 627.59 L95.39 629.8 L93.84 631.99 L92.28 634.16 L90.73 636.31 L89.18 638.44 L87.62 640.56 L86.07 642.66 L84.52 644.76 L82.96 646.84 L81.41 648.92 L79.86 651 L78.3 653.07 L76.75 655.14 L75.19 657.22 L73.64 659.3 L72.09 661.38 L70.53 663.48 L68.98 665.58 L67.43 667.69 L65.87 669.82 L64.32 671.97 L62.77 674.13 L61.21 676.32 L59.66 678.52 L58.11 680.75 L56.55 683.01 L55 685.3 Z" fill="#fa8072" fill-opacity="0.2" fill-rule="evenodd"/>
<path d="M62.8 911 L113.6 684.84 L114.45 681.27 L115.3 677.66 L116.15 674.01 L117.01 670.31 L117.86 666.57 L118.71 662.81 L119.56 659.01 L120.41 655.19 L121.26 651.36 L122.12 647.5 L122.97 643.64 L123.82 639.77 L124.67 635.9 L125.52 632.03 L126.37 628.16 L127.23 624.31 L128.08 620.46 L128.93 616.64 L129.78 612.84 L130.63 609.07 L131.48 605.33 L132.33 601.63 L133.19 597.97 L134.04 594.37 L134.89 590.83 L135.74 587.35 L136.59 583.96 L137.44 580.64 L138.3 577.42 L139.15 574.29 L140 571.27 L140.85 568.34 L141.7 565.48 L142.55 562.7 L143.41 559.97 L144.26 557.29 L145.11 554.65 L145.96 552.03 L146.81 549.43 L147.66 546.83 L148.51 544.22 L149.37 541.62 L150.22 539.02 L151.07 536.43 L151.92 533.84 L152.77 531.27 L153.62 528.72 L154.48 526.2 L155.33 523.69 L156.18 521.22 L157.03 518.78 L157.88 516.37 L158.73 513.99 L159.58 511.64 L160.44 509.32 L161.29 507.03 L162.14 504.77 L162.99 502.55 L163.84 500.35 L164.69 498.18 L165.55 496.04 L166.4 493.93 L167.25 491.85 L168.1 489.8 L168.95 487.77 L169.8 485.77 L170.66 483.79 L171.51 481.84 L172.36 479.91 L173.21 478.01 L174.06 476.13 L174.91 474.27 L175.76 472.44 L176.62 470.63 L177.47 468.83 L178.32 467.06 L179.17 465.31 L180.02 463.58 L180.87 461.87 L181.73 460.17 L182.58 458.5 L183.43 456.84 L184.28 455.2 L185.13 453.57 L185.98 451.96 L186.84 450.37 L187.69 448.79 L188.54 447.23 L189.39 445.68 L190.24 444.15 L191.09 442.63 L191.94 441.13 L192.8 439.64 L193.65 438.17 L194.5 436.71 L195.35 435.26 L196.2 433.82 L197.05 432.4 L197.91 430.98 L198.76 429.58 L199.61 428.19 L200.46 426.81 L201.31 425.45 L202.16 424.09 L203.02 422.74 L203.87 421.4 L204.72 420.07 L205.57 418.75 L206.42 417.44 L207.27 416.14 L208.12 414.84 L208.98 413.56 L209.83 412.28 L210.68 411.01 L211.53 409.74 L212.38 408.48 L213.23 407.23 L214.09 405.98 L214.94 404.74 L215.79 403.5 L216.64 402.27 L217.49 401.04 L218.34 399.82 L219.19 398.6 L220.05 397.38 L220.9 396.17 L221.75 394.95 L222.6 393.75 L223.45 392.54 L224.3 391.34 L225.16 390.13 L226.01 388.93 L226.86 387.73 L227.71 386.53 L228.56 385.33 L229.41 384.13 L230.27 382.93 L231.12 381.73 L231.97 380.53 L232.82 379.33 L233.67 378.12 L234.52 376.91 L235.37 375.71 L236.23 374.49 L237.08 373.28 L237.93 372.06 L238.78 370.84 L239.63 369.61 L240.48 368.38 L241.34 367.14 L242.19 365.9 L243.04 364.66 L243.89 363.41 L244.74 362.15 L245.59 360.89 L246.45 359.62 L247.3 358.34 L248.15 357.06 L249 355.76" fill="none" stroke="#f9928a" stroke-width="1.1" stroke-linecap="round" stroke-dasharray="0.15 2.75"/>
<path d="M55 685.3 L56.55 683.01 L58.11 680.75 L59.66 678.52 L61.21 676.32 L62.77 674.13 L64.32 671.97 L65.87 669.82 L67.43 667.69 L68.98 665.58 L70.53 663.48 L72.09 661.38 L73.64 659.3 L75.19 657.22 L76.75 655.14 L78.3 653.07 L79.86 651 L81.41 648.92 L82.96 646.84 L84.52 644.76 L86.07 642.66 L87.62 640.56 L89.18 638.44 L90.73 636.31 L92.28 634.16 L93.84 631.99 L95.39 629.8 L96.94 627.59 L98.5 625.35 L100.05 623.09 L101.6 620.8 L103.16 618.47 L104.71 616.12 L106.26 613.73 L107.82 611.3 L109.37 608.83 L110.92 606.32 L112.48 603.77 L114.03 601.17 L115.58 598.53 L117.14 595.83 L118.69 593.09 L120.25 590.3 L121.8 587.46 L123.35 584.58 L124.91 581.67 L126.46 578.72 L128.01 575.73 L129.57 572.71 L131.12 569.67 L132.67 566.6 L134.23 563.51 L135.78 560.4 L137.33 557.29 L138.89 554.17 L140.44 551.05 L141.99 547.94 L143.55 544.85 L145.1 541.78 L146.65 538.74 L148.21 535.74 L149.76 532.78 L151.31 529.87 L152.87 527 L154.42 524.18 L155.97 521.41 L157.53 518.69 L159.08 516.01 L160.64 513.37 L162.19 510.78 L163.74 508.23 L165.3 505.73 L166.85 503.26 L168.4 500.84 L169.96 498.46 L171.51 496.12 L173.06 493.81 L174.62 491.55 L176.17 489.32 L177.72 487.13 L179.28 484.97 L180.83 482.85 L182.38 480.76 L183.94 478.71 L185.49 476.69 L187.04 474.7 L188.6 472.74 L190.15 470.81 L191.7 468.91 L193.26 467.03 L194.81 465.18 L196.36 463.36 L197.92 461.56 L199.47 459.78 L201.03 458.03 L202.58 456.29 L204.13 454.58 L205.69 452.88 L207.24 451.2 L208.79 449.54 L210.35 447.9 L211.9 446.27 L213.45 444.66 L215.01 443.05 L216.56 441.46 L218.11 439.88 L219.67 438.31 L221.22 436.75 L222.77 435.2 L224.33 433.65 L225.88 432.11 L227.43 430.57 L228.99 429.04 L230.54 427.51 L232.09 425.98 L233.65 424.45 L235.2 422.93 L236.75 421.4 L238.31 419.86 L239.86 418.33 L241.42 416.79 L242.97 415.25 L244.52 413.7 L246.08 412.15 L247.63 410.59 L249.18 409.03 L250.74 407.47 L252.29 405.91 L253.84 404.34 L255.4 402.77 L256.95 401.2 L258.5 399.63 L260.06 398.06 L261.61 396.48 L263.16 394.91 L264.72 393.33 L266.27 391.76 L267.82 390.18 L269.38 388.61 L270.93 387.04 L272.48 385.46 L274.04 383.89 L275.59 382.32 L277.14 380.76 L278.7 379.19 L280.25 377.63 L281.81 376.07 L283.36 374.52 L284.91 372.97 L286.47 371.42 L288.02 369.87 L289.57 368.34 L291.13 366.8 L292.68 365.27 L294.23 363.75 L295.79 362.23 L297.34 360.72 L298.89 359.21 L300.45 357.71 L302 356.22" fill="none" stroke="#f9928a" stroke-width="1.1" stroke-linecap="round" stroke-dasharray="0.15 2.75"/>
<path d="M101.5 685.66 L102.57 682.09 L103.64 678.51 L104.72 674.91 L105.79 671.3 L106.86 667.69 L107.93 664.06 L109.01 660.43 L110.08 656.79 L111.15 653.15 L112.22 649.51 L113.3 645.87 L114.37 642.23 L115.44 638.6 L116.51 634.98 L117.58 631.36 L118.66 627.76 L119.73 624.17 L120.8 620.59 L121.87 617.03 L122.95 613.48 L124.02 609.96 L125.09 606.46 L126.16 602.98 L127.24 599.53 L128.31 596.11 L129.38 592.71 L130.45 589.35 L131.53 586.01 L132.6 582.7 L133.67 579.43 L134.74 576.19 L135.81 572.99 L136.89 569.82 L137.96 566.69 L139.03 563.59 L140.1 560.53 L141.18 557.52 L142.25 554.54 L143.32 551.61 L144.39 548.72 L145.47 545.87 L146.54 543.07 L147.61 540.31 L148.68 537.6 L149.75 534.94 L150.83 532.32 L151.9 529.75 L152.97 527.21 L154.04 524.72 L155.12 522.27 L156.19 519.86 L157.26 517.49 L158.33 515.16 L159.41 512.87 L160.48 510.61 L161.55 508.39 L162.62 506.2 L163.69 504.05 L164.77 501.93 L165.84 499.84 L166.91 497.78 L167.98 495.75 L169.06 493.76 L170.13 491.79 L171.2 489.84 L172.27 487.93 L173.35 486.04 L174.42 484.17 L175.49 482.33 L176.56 480.51 L177.64 478.72 L178.71 476.94 L179.78 475.19 L180.85 473.45 L181.92 471.73 L183 470.03 L184.07 468.35 L185.14 466.68 L186.21 465.03 L187.29 463.39 L188.36 461.76 L189.43 460.15 L190.5 458.54 L191.58 456.95 L192.65 455.37 L193.72 453.8 L194.79 452.24 L195.86 450.69 L196.94 449.16 L198.01 447.63 L199.08 446.11 L200.15 444.6 L201.23 443.1 L202.3 441.62 L203.37 440.14 L204.44 438.66 L205.52 437.2 L206.59 435.75 L207.66 434.3 L208.73 432.87 L209.81 431.44 L210.88 430.02 L211.95 428.6 L213.02 427.2 L214.09 425.8 L215.17 424.41 L216.24 423.02 L217.31 421.64 L218.38 420.27 L219.46 418.9 L220.53 417.54 L221.6 416.19 L222.67 414.84 L223.75 413.5 L224.82 412.16 L225.89 410.83 L226.96 409.5 L228.03 408.18 L229.11 406.86 L230.18 405.55 L231.25 404.24 L232.32 402.93 L233.4 401.63 L234.47 400.33 L235.54 399.03 L236.61 397.74 L237.69 396.45 L238.76 395.17 L239.83 393.88 L240.9 392.6 L241.97 391.32 L243.05 390.04 L244.12 388.77 L245.19 387.49 L246.26 386.22 L247.34 384.95 L248.41 383.68 L249.48 382.41 L250.55 381.14 L251.63 379.87 L252.7 378.6 L253.77 377.33 L254.84 376.06 L255.92 374.79 L256.99 373.52 L258.06 372.25 L259.13 370.98 L260.2 369.7 L261.28 368.43 L262.35 367.15 L263.42 365.88 L264.49 364.6 L265.57 363.31 L266.64 362.03 L267.71 360.74 L268.78 359.45 L269.86 358.16 L270.93 356.86 L272 355.57" fill="none" stroke="#fa7771" stroke-width="1.35" stroke-linejoin="round"/>
<path d="M155.5 368.2V675 M26.85 521.4H336.8" fill="none" stroke="#52aeb0" stroke-width="0.8" stroke-dasharray="2.2 2.18"/>
</g>
<path d="M27.85 368.2V675H334.8" fill="none" stroke="#4a4a4a" stroke-width="1.05" stroke-linejoin="round"/>
<text transform="translate(21.1 381.55) rotate(0.03)" text-anchor="end" class="tk">10.0</text>
<text transform="translate(21.1 424.27) rotate(0.03)" text-anchor="end" class="tk">5.0</text>
<text transform="translate(21.1 480.73) rotate(0.03)" text-anchor="end" class="tk">2.0</text>
<text transform="translate(21.1 523.45) rotate(0.03)" text-anchor="end" class="tk">1.0</text>
<text transform="translate(21.1 566.17) rotate(0.03)" text-anchor="end" class="tk">0.5</text>
<text transform="translate(21.1 622.63) rotate(0.03)" text-anchor="end" class="tk">0.2</text>
<text transform="translate(21.1 665.35) rotate(0.03)" text-anchor="end" class="tk">0.1</text>
<text transform="translate(68.4 687.85) rotate(0.03)" text-anchor="middle" class="tk">400</text>
<text transform="translate(116.4 687.85) rotate(0.03)" text-anchor="middle" class="tk">500</text>
<text transform="translate(164.3 687.85) rotate(0.03)" text-anchor="middle" class="tk">600</text>
<text transform="translate(212.3 687.85) rotate(0.03)" text-anchor="middle" class="tk">700</text>
<text transform="translate(260.2 687.85) rotate(0.03)" text-anchor="middle" class="tk">800</text>
<text transform="translate(308.2 687.85) rotate(0.03)" text-anchor="middle" class="tk">900</text>
<path d="M24.25 379.5H27.85M24.25 422.22H27.85M24.25 478.68H27.85M24.25 521.4H27.85M24.25 564.12H27.85M24.25 620.58H27.85M24.25 663.3H27.85M68.4 675V678.8M116.4 675V678.8M164.3 675V678.8M212.3 675V678.8M260.2 675V678.8M308.2 675V678.8" fill="none" stroke="#3c3c3c" stroke-width="0.8"/>
<text transform="translate(181.33 701.5) rotate(0.03)" text-anchor="middle" class="ax">TyGWC</text>
<text transform="translate(5.55 521.9) rotate(-90.03)" text-anchor="middle" class="ax ay">Odds Ratio of Fattyliver</text>
<text transform="translate(124.65 381.2) rotate(0.03)" text-anchor="middle" textLength="46.1" lengthAdjust="spacingAndGlyphs" class="pt">P for overall: &lt;0.001</text>
<text transform="translate(124.65 387.1) rotate(0.03)" text-anchor="middle" textLength="60.2" lengthAdjust="spacingAndGlyphs" class="pt">P for non-linearity: &lt;0.001</text>
<text transform="translate(155.8 514.1) rotate(0.03)" text-anchor="middle" class="rf">Ref. point = 582.04</text>
<text transform="translate(16.6 360.7) rotate(0.03)" class="lt">C</text>
<clipPath id="clip3"><rect x="376.5" y="368.2" width="309.2" height="307"/></clipPath>
<g clip-path="url(#clip3)">
<path d="M398.1 666.8H403.27V666.5H398.1ZM403.77 666.8H408.94V665.8H403.77ZM409.44 666.8H414.62V664.3H409.44ZM415.12 666.8H420.29V660.8H415.12ZM420.79 666.8H425.96V653.7H420.79ZM426.46 666.8H431.63V650.9H426.46ZM432.13 666.8H437.3V638.9H432.13ZM437.8 666.8H442.98V625.9H437.8ZM443.48 666.8H448.65V599.9H443.48ZM449.15 666.8H454.32V583H449.15ZM454.82 666.8H459.99V567H454.82ZM460.49 666.8H465.66V554H460.49ZM466.16 666.8H471.34V532.9H466.16ZM471.84 666.8H477.01V519.6H471.84ZM477.51 666.8H482.68V499.9H477.51ZM483.18 666.8H488.35V500.4H483.18ZM488.85 666.8H494.02V494.9H488.85ZM494.52 666.8H499.7V477H494.52ZM500.2 666.8H505.37V477.5H500.2ZM505.87 666.8H511.04V492.9H505.87ZM511.54 666.8H516.71V478.6H511.54ZM517.21 666.8H522.38V486H517.21ZM522.88 666.8H528.06V510H522.88ZM528.56 666.8H533.73V508.9H528.56ZM534.23 666.8H539.4V521.1H534.23ZM539.9 666.8H545.07V535.3H539.9ZM545.57 666.8H550.74V547.8H545.57ZM551.24 666.8H556.42V554.4H551.24ZM556.92 666.8H562.09V570.7H556.92ZM562.59 666.8H567.76V583.2H562.59ZM568.26 666.8H573.43V598H568.26ZM573.93 666.8H579.1V606.4H573.93ZM579.6 666.8H584.78V620.3H579.6ZM585.28 666.8H590.45V632.2H585.28ZM590.95 666.8H596.12V631.1H590.95ZM596.62 666.8H601.79V642.9H596.62ZM602.29 666.8H607.46V651.2H602.29ZM607.96 666.8H613.14V651.2H607.96ZM613.64 666.8H618.81V660.9H613.64ZM619.31 666.8H624.48V660H619.31ZM624.98 666.8H630.15V662H624.98ZM630.65 666.8H635.82V664.4H630.65ZM636.32 666.8H641.5V666H636.32ZM642 666.8H647.17V666.5H642ZM647.67 666.8H652.84V666.5H647.67ZM659.01 666.8H664.18V666H659.01Z" fill="#a9d5fc"/>
<path d="M387.8 939 L458.6 684.89 L459.55 681.48 L460.49 678 L461.44 674.45 L462.38 670.84 L463.33 667.18 L464.28 663.47 L465.22 659.72 L466.17 655.94 L467.11 652.13 L468.06 648.3 L469.01 644.45 L469.95 640.6 L470.9 636.75 L471.84 632.9 L472.79 629.07 L473.73 625.25 L474.68 621.46 L475.63 617.7 L476.57 613.98 L477.52 610.3 L478.46 606.68 L479.41 603.11 L480.36 599.61 L481.3 596.18 L482.25 592.81 L483.19 589.52 L484.14 586.3 L485.09 583.15 L486.03 580.07 L486.98 577.07 L487.92 574.15 L488.87 571.31 L489.82 568.54 L490.76 565.83 L491.71 563.18 L492.65 560.59 L493.6 558.03 L494.54 555.51 L495.49 553.01 L496.44 550.54 L497.38 548.08 L498.33 545.64 L499.27 543.22 L500.22 540.81 L501.17 538.41 L502.11 536.03 L503.06 533.67 L504 531.32 L504.95 528.98 L505.9 526.67 L506.84 524.37 L507.79 522.08 L508.73 519.81 L509.68 517.55 L510.63 515.32 L511.57 513.09 L512.52 510.89 L513.46 508.69 L514.41 506.52 L515.35 504.36 L516.3 502.22 L517.25 500.09 L518.19 497.98 L519.14 495.89 L520.08 493.81 L521.03 491.75 L521.98 489.7 L522.92 487.67 L523.87 485.66 L524.81 483.67 L525.76 481.69 L526.71 479.73 L527.65 477.78 L528.6 475.85 L529.54 473.94 L530.49 472.04 L531.44 470.16 L532.38 468.3 L533.33 466.46 L534.27 464.63 L535.22 462.82 L536.16 461.02 L537.11 459.24 L538.06 457.48 L539 455.73 L539.95 454 L540.89 452.29 L541.84 450.59 L542.79 448.91 L543.73 447.24 L544.68 445.58 L545.62 443.94 L546.57 442.32 L547.52 440.71 L548.46 439.11 L549.41 437.53 L550.35 435.96 L551.3 434.4 L552.25 432.85 L553.19 431.32 L554.14 429.81 L555.08 428.3 L556.03 426.81 L556.97 425.32 L557.92 423.86 L558.87 422.4 L559.81 420.95 L560.76 419.52 L561.7 418.09 L562.65 416.68 L563.6 415.27 L564.54 413.88 L565.49 412.5 L566.43 411.13 L567.38 409.76 L568.33 408.41 L569.27 407.07 L570.22 405.73 L571.16 404.41 L572.11 403.09 L573.06 401.78 L574 400.48 L574.95 399.19 L575.89 397.91 L576.84 396.63 L577.78 395.36 L578.73 394.1 L579.68 392.84 L580.62 391.6 L581.57 390.35 L582.51 389.12 L583.46 387.89 L584.41 386.67 L585.35 385.45 L586.3 384.24 L587.24 383.03 L588.19 381.83 L589.14 380.64 L590.08 379.45 L591.03 378.26 L591.97 377.08 L592.92 375.9 L593.87 374.73 L594.81 373.56 L595.76 372.39 L596.7 371.22 L597.65 370.06 L598.59 368.91 L599.54 367.75 L600.49 366.6 L601.43 365.45 L602.38 364.3 L603.32 363.15 L604.27 362.01 L605.22 360.87 L606.16 359.72 L607.11 358.58 L608.05 357.44 L609 356.3 L664 355.53 L662.26 357.33 L660.53 359.12 L658.79 360.9 L657.05 362.67 L655.31 364.43 L653.58 366.18 L651.84 367.92 L650.1 369.66 L648.37 371.38 L646.63 373.1 L644.89 374.82 L643.15 376.52 L641.42 378.22 L639.68 379.92 L637.94 381.61 L636.21 383.3 L634.47 384.98 L632.73 386.66 L630.99 388.33 L629.26 390 L627.52 391.67 L625.78 393.34 L624.05 395 L622.31 396.67 L620.57 398.33 L618.84 399.99 L617.1 401.66 L615.36 403.32 L613.62 404.98 L611.89 406.65 L610.15 408.31 L608.41 409.98 L606.68 411.65 L604.94 413.32 L603.2 415 L601.46 416.68 L599.73 418.36 L597.99 420.05 L596.25 421.75 L594.52 423.44 L592.78 425.15 L591.04 426.86 L589.3 428.57 L587.57 430.3 L585.83 432.03 L584.09 433.77 L582.36 435.51 L580.62 437.27 L578.88 439.03 L577.14 440.8 L575.41 442.59 L573.67 444.38 L571.93 446.18 L570.2 448 L568.46 449.82 L566.72 451.66 L564.98 453.51 L563.25 455.37 L561.51 457.25 L559.77 459.14 L558.04 461.04 L556.3 462.96 L554.56 464.89 L552.83 466.84 L551.09 468.8 L549.35 470.78 L547.61 472.77 L545.88 474.78 L544.14 476.81 L542.4 478.86 L540.67 480.92 L538.93 483 L537.19 485.1 L535.45 487.22 L533.72 489.36 L531.98 491.52 L530.24 493.7 L528.51 495.9 L526.77 498.12 L525.03 500.37 L523.29 502.63 L521.56 504.92 L519.82 507.24 L518.08 509.58 L516.35 511.95 L514.61 514.34 L512.87 516.77 L511.13 519.22 L509.4 521.71 L507.66 524.23 L505.92 526.78 L504.19 529.37 L502.45 532 L500.71 534.66 L498.97 537.36 L497.24 540.11 L495.5 542.89 L493.76 545.71 L492.03 548.58 L490.29 551.48 L488.55 554.39 L486.82 557.31 L485.08 560.2 L483.34 563.07 L481.6 565.88 L479.87 568.64 L478.13 571.31 L476.39 573.89 L474.66 576.37 L472.92 578.75 L471.18 581.05 L469.44 583.26 L467.71 585.39 L465.97 587.45 L464.23 589.44 L462.5 591.38 L460.76 593.26 L459.02 595.09 L457.28 596.88 L455.55 598.63 L453.81 600.35 L452.07 602.04 L450.34 603.71 L448.6 605.35 L446.86 606.97 L445.12 608.57 L443.39 610.15 L441.65 611.73 L439.91 613.3 L438.18 614.86 L436.44 616.42 L434.7 617.98 L432.96 619.54 L431.23 621.11 L429.49 622.69 L427.75 624.28 L426.02 625.89 L424.28 627.52 L422.54 629.17 L420.81 630.84 L419.07 632.52 L417.33 634.21 L415.59 635.92 L413.86 637.63 L412.12 639.35 L410.38 641.07 L408.65 642.78 L406.91 644.5 L405.17 646.2 L403.43 647.9 L401.7 649.58 L399.96 651.25 L398.22 652.9 L396.49 654.52 L394.75 656.13 L393.01 657.7 L391.27 659.24 L389.54 660.76 L387.8 662.23 Z" fill="#fa8072" fill-opacity="0.2" fill-rule="evenodd"/>
<path d="M387.8 939 L458.6 684.89 L459.55 681.48 L460.49 678 L461.44 674.45 L462.38 670.84 L463.33 667.18 L464.28 663.47 L465.22 659.72 L466.17 655.94 L467.11 652.13 L468.06 648.3 L469.01 644.45 L469.95 640.6 L470.9 636.75 L471.84 632.9 L472.79 629.07 L473.73 625.25 L474.68 621.46 L475.63 617.7 L476.57 613.98 L477.52 610.3 L478.46 606.68 L479.41 603.11 L480.36 599.61 L481.3 596.18 L482.25 592.81 L483.19 589.52 L484.14 586.3 L485.09 583.15 L486.03 580.07 L486.98 577.07 L487.92 574.15 L488.87 571.31 L489.82 568.54 L490.76 565.83 L491.71 563.18 L492.65 560.59 L493.6 558.03 L494.54 555.51 L495.49 553.01 L496.44 550.54 L497.38 548.08 L498.33 545.64 L499.27 543.22 L500.22 540.81 L501.17 538.41 L502.11 536.03 L503.06 533.67 L504 531.32 L504.95 528.98 L505.9 526.67 L506.84 524.37 L507.79 522.08 L508.73 519.81 L509.68 517.55 L510.63 515.32 L511.57 513.09 L512.52 510.89 L513.46 508.69 L514.41 506.52 L515.35 504.36 L516.3 502.22 L517.25 500.09 L518.19 497.98 L519.14 495.89 L520.08 493.81 L521.03 491.75 L521.98 489.7 L522.92 487.67 L523.87 485.66 L524.81 483.67 L525.76 481.69 L526.71 479.73 L527.65 477.78 L528.6 475.85 L529.54 473.94 L530.49 472.04 L531.44 470.16 L532.38 468.3 L533.33 466.46 L534.27 464.63 L535.22 462.82 L536.16 461.02 L537.11 459.24 L538.06 457.48 L539 455.73 L539.95 454 L540.89 452.29 L541.84 450.59 L542.79 448.91 L543.73 447.24 L544.68 445.58 L545.62 443.94 L546.57 442.32 L547.52 440.71 L548.46 439.11 L549.41 437.53 L550.35 435.96 L551.3 434.4 L552.25 432.85 L553.19 431.32 L554.14 429.81 L555.08 428.3 L556.03 426.81 L556.97 425.32 L557.92 423.86 L558.87 422.4 L559.81 420.95 L560.76 419.52 L561.7 418.09 L562.65 416.68 L563.6 415.27 L564.54 413.88 L565.49 412.5 L566.43 411.13 L567.38 409.76 L568.33 408.41 L569.27 407.07 L570.22 405.73 L571.16 404.41 L572.11 403.09 L573.06 401.78 L574 400.48 L574.95 399.19 L575.89 397.91 L576.84 396.63 L577.78 395.36 L578.73 394.1 L579.68 392.84 L580.62 391.6 L581.57 390.35 L582.51 389.12 L583.46 387.89 L584.41 386.67 L585.35 385.45 L586.3 384.24 L587.24 383.03 L588.19 381.83 L589.14 380.64 L590.08 379.45 L591.03 378.26 L591.97 377.08 L592.92 375.9 L593.87 374.73 L594.81 373.56 L595.76 372.39 L596.7 371.22 L597.65 370.06 L598.59 368.91 L599.54 367.75 L600.49 366.6 L601.43 365.45 L602.38 364.3 L603.32 363.15 L604.27 362.01 L605.22 360.87 L606.16 359.72 L607.11 358.58 L608.05 357.44 L609 356.3" fill="none" stroke="#f9928a" stroke-width="1.1" stroke-linecap="round" stroke-dasharray="0.15 2.75"/>
<path d="M387.8 662.23 L389.54 660.76 L391.27 659.24 L393.01 657.7 L394.75 656.13 L396.49 654.52 L398.22 652.9 L399.96 651.25 L401.7 649.58 L403.43 647.9 L405.17 646.2 L406.91 644.5 L408.65 642.78 L410.38 641.07 L412.12 639.35 L413.86 637.63 L415.59 635.92 L417.33 634.21 L419.07 632.52 L420.81 630.84 L422.54 629.17 L424.28 627.52 L426.02 625.89 L427.75 624.28 L429.49 622.69 L431.23 621.11 L432.96 619.54 L434.7 617.98 L436.44 616.42 L438.18 614.86 L439.91 613.3 L441.65 611.73 L443.39 610.15 L445.12 608.57 L446.86 606.97 L448.6 605.35 L450.34 603.71 L452.07 602.04 L453.81 600.35 L455.55 598.63 L457.28 596.88 L459.02 595.09 L460.76 593.26 L462.5 591.38 L464.23 589.44 L465.97 587.45 L467.71 585.39 L469.44 583.26 L471.18 581.05 L472.92 578.75 L474.66 576.37 L476.39 573.89 L478.13 571.31 L479.87 568.64 L481.6 565.88 L483.34 563.07 L485.08 560.2 L486.82 557.31 L488.55 554.39 L490.29 551.48 L492.03 548.58 L493.76 545.71 L495.5 542.89 L497.24 540.11 L498.97 537.36 L500.71 534.66 L502.45 532 L504.19 529.37 L505.92 526.78 L507.66 524.23 L509.4 521.71 L511.13 519.22 L512.87 516.77 L514.61 514.34 L516.35 511.95 L518.08 509.58 L519.82 507.24 L521.56 504.92 L523.29 502.63 L525.03 500.37 L526.77 498.12 L528.51 495.9 L530.24 493.7 L531.98 491.52 L533.72 489.36 L535.45 487.22 L537.19 485.1 L538.93 483 L540.67 480.92 L542.4 478.86 L544.14 476.81 L545.88 474.78 L547.61 472.77 L549.35 470.78 L551.09 468.8 L552.83 466.84 L554.56 464.89 L556.3 462.96 L558.04 461.04 L559.77 459.14 L561.51 457.25 L563.25 455.37 L564.98 453.51 L566.72 451.66 L568.46 449.82 L570.2 448 L571.93 446.18 L573.67 444.38 L575.41 442.59 L577.14 440.8 L578.88 439.03 L580.62 437.27 L582.36 435.51 L584.09 433.77 L585.83 432.03 L587.57 430.3 L589.3 428.57 L591.04 426.86 L592.78 425.15 L594.52 423.44 L596.25 421.75 L597.99 420.05 L599.73 418.36 L601.46 416.68 L603.2 415 L604.94 413.32 L606.68 411.65 L608.41 409.98 L610.15 408.31 L611.89 406.65 L613.62 404.98 L615.36 403.32 L617.1 401.66 L618.84 399.99 L620.57 398.33 L622.31 396.67 L624.05 395 L625.78 393.34 L627.52 391.67 L629.26 390 L630.99 388.33 L632.73 386.66 L634.47 384.98 L636.21 383.3 L637.94 381.61 L639.68 379.92 L641.42 378.22 L643.15 376.52 L644.89 374.82 L646.63 373.1 L648.37 371.38 L650.1 369.66 L651.84 367.92 L653.58 366.18 L655.31 364.43 L657.05 362.67 L658.79 360.9 L660.53 359.12 L662.26 357.33 L664 355.53" fill="none" stroke="#f9928a" stroke-width="1.1" stroke-linecap="round" stroke-dasharray="0.15 2.75"/>
<path d="M442 686.16 L443.19 682.63 L444.38 679.14 L445.57 675.66 L446.75 672.21 L447.94 668.78 L449.13 665.38 L450.32 662 L451.51 658.64 L452.7 655.3 L453.89 651.99 L455.08 648.7 L456.26 645.43 L457.45 642.18 L458.64 638.96 L459.83 635.76 L461.02 632.58 L462.21 629.42 L463.4 626.28 L464.58 623.17 L465.77 620.08 L466.96 617.01 L468.15 613.96 L469.34 610.94 L470.53 607.93 L471.72 604.95 L472.91 601.99 L474.09 599.05 L475.28 596.13 L476.47 593.24 L477.66 590.36 L478.85 587.51 L480.04 584.67 L481.23 581.86 L482.42 579.07 L483.6 576.3 L484.79 573.55 L485.98 570.82 L487.17 568.11 L488.36 565.43 L489.55 562.76 L490.74 560.11 L491.92 557.49 L493.11 554.88 L494.3 552.3 L495.49 549.73 L496.68 547.19 L497.87 544.66 L499.06 542.15 L500.25 539.67 L501.43 537.2 L502.62 534.76 L503.81 532.33 L505 529.92 L506.19 527.54 L507.38 525.17 L508.57 522.82 L509.75 520.49 L510.94 518.18 L512.13 515.89 L513.32 513.62 L514.51 511.37 L515.7 509.13 L516.89 506.92 L518.08 504.72 L519.26 502.54 L520.45 500.38 L521.64 498.24 L522.83 496.12 L524.02 494.02 L525.21 491.93 L526.4 489.87 L527.58 487.82 L528.77 485.79 L529.96 483.78 L531.15 481.78 L532.34 479.81 L533.53 477.85 L534.72 475.91 L535.91 473.98 L537.09 472.08 L538.28 470.19 L539.47 468.32 L540.66 466.46 L541.85 464.63 L543.04 462.81 L544.23 461 L545.42 459.21 L546.6 457.44 L547.79 455.68 L548.98 453.94 L550.17 452.21 L551.36 450.5 L552.55 448.8 L553.74 447.12 L554.92 445.45 L556.11 443.79 L557.3 442.15 L558.49 440.52 L559.68 438.91 L560.87 437.3 L562.06 435.71 L563.25 434.13 L564.43 432.57 L565.62 431.01 L566.81 429.47 L568 427.93 L569.19 426.41 L570.38 424.9 L571.57 423.4 L572.75 421.91 L573.94 420.43 L575.13 418.96 L576.32 417.5 L577.51 416.05 L578.7 414.6 L579.89 413.17 L581.08 411.74 L582.26 410.33 L583.45 408.92 L584.64 407.52 L585.83 406.12 L587.02 404.73 L588.21 403.35 L589.4 401.98 L590.58 400.61 L591.77 399.25 L592.96 397.9 L594.15 396.55 L595.34 395.21 L596.53 393.87 L597.72 392.53 L598.91 391.2 L600.09 389.88 L601.28 388.56 L602.47 387.24 L603.66 385.93 L604.85 384.62 L606.04 383.32 L607.23 382.01 L608.42 380.72 L609.6 379.42 L610.79 378.12 L611.98 376.83 L613.17 375.54 L614.36 374.25 L615.55 372.96 L616.74 371.67 L617.92 370.38 L619.11 369.1 L620.3 367.81 L621.49 366.52 L622.68 365.24 L623.87 363.95 L625.06 362.66 L626.25 361.37 L627.43 360.08 L628.62 358.79 L629.81 357.5 L631 356.2" fill="none" stroke="#fa7771" stroke-width="1.35" stroke-linejoin="round"/>
<path d="M508.6 368.2V675.2 M375.5 521.4H685.7" fill="none" stroke="#52aeb0" stroke-width="0.8" stroke-dasharray="2.2 2.18"/>
</g>
<path d="M376.5 368.2V675.2H683.7" fill="none" stroke="#4a4a4a" stroke-width="1.05" stroke-linejoin="round"/>
<text transform="translate(369.75 381.55) rotate(0.03)" text-anchor="end" class="tk">10.0</text>
<text transform="translate(369.75 424.27) rotate(0.03)" text-anchor="end" class="tk">5.0</text>
<text transform="translate(369.75 480.73) rotate(0.03)" text-anchor="end" class="tk">2.0</text>
<text transform="translate(369.75 523.45) rotate(0.03)" text-anchor="end" class="tk">1.0</text>
<text transform="translate(369.75 566.17) rotate(0.03)" text-anchor="end" class="tk">0.5</text>
<text transform="translate(369.75 622.63) rotate(0.03)" text-anchor="end" class="tk">0.2</text>
<text transform="translate(369.75 665.35) rotate(0.03)" text-anchor="end" class="tk">0.1</text>
<text transform="translate(379.4 687.85) rotate(0.03)" text-anchor="middle" class="tk">2.0</text>
<text transform="translate(421.3 687.85) rotate(0.03)" text-anchor="middle" class="tk">2.5</text>
<text transform="translate(463.2 687.85) rotate(0.03)" text-anchor="middle" class="tk">3.0</text>
<text transform="translate(505.1 687.85) rotate(0.03)" text-anchor="middle" class="tk">3.5</text>
<text transform="translate(547.1 687.85) rotate(0.03)" text-anchor="middle" class="tk">4.0</text>
<text transform="translate(589 687.85) rotate(0.03)" text-anchor="middle" class="tk">4.5</text>
<text transform="translate(630.9 687.85) rotate(0.03)" text-anchor="middle" class="tk">5.0</text>
<text transform="translate(672.8 687.85) rotate(0.03)" text-anchor="middle" class="tk">5.5</text>
<path d="M372.9 379.5H376.5M372.9 422.22H376.5M372.9 478.68H376.5M372.9 521.4H376.5M372.9 564.12H376.5M372.9 620.58H376.5M372.9 663.3H376.5M379.4 675.2V679M421.3 675.2V679M463.2 675.2V679M505.1 675.2V679M547.1 675.2V679M589 675.2V679M630.9 675.2V679M672.8 675.2V679" fill="none" stroke="#3c3c3c" stroke-width="0.8"/>
<text transform="translate(530.1 701.5) rotate(0.03)" text-anchor="middle" class="ax">TyGWHtR</text>
<text transform="translate(354.2 522) rotate(-90.03)" text-anchor="middle" class="ax ay">Odds Ratio of Fattyliver</text>
<text transform="translate(473.3 381.25) rotate(0.03)" text-anchor="middle" textLength="46.1" lengthAdjust="spacingAndGlyphs" class="pt">P for overall: &lt;0.001</text>
<text transform="translate(473.3 387.15) rotate(0.03)" text-anchor="middle" textLength="57.85" lengthAdjust="spacingAndGlyphs" class="pt">P for non-linearity: 0.003</text>
<text transform="translate(508.9 514.1) rotate(0.03)" text-anchor="middle" class="rf">Ref. point = 3.541</text>
<text transform="translate(366.8 362.1) rotate(0.03)" class="lt">D</text>
</g>
</svg>
</body></html>
